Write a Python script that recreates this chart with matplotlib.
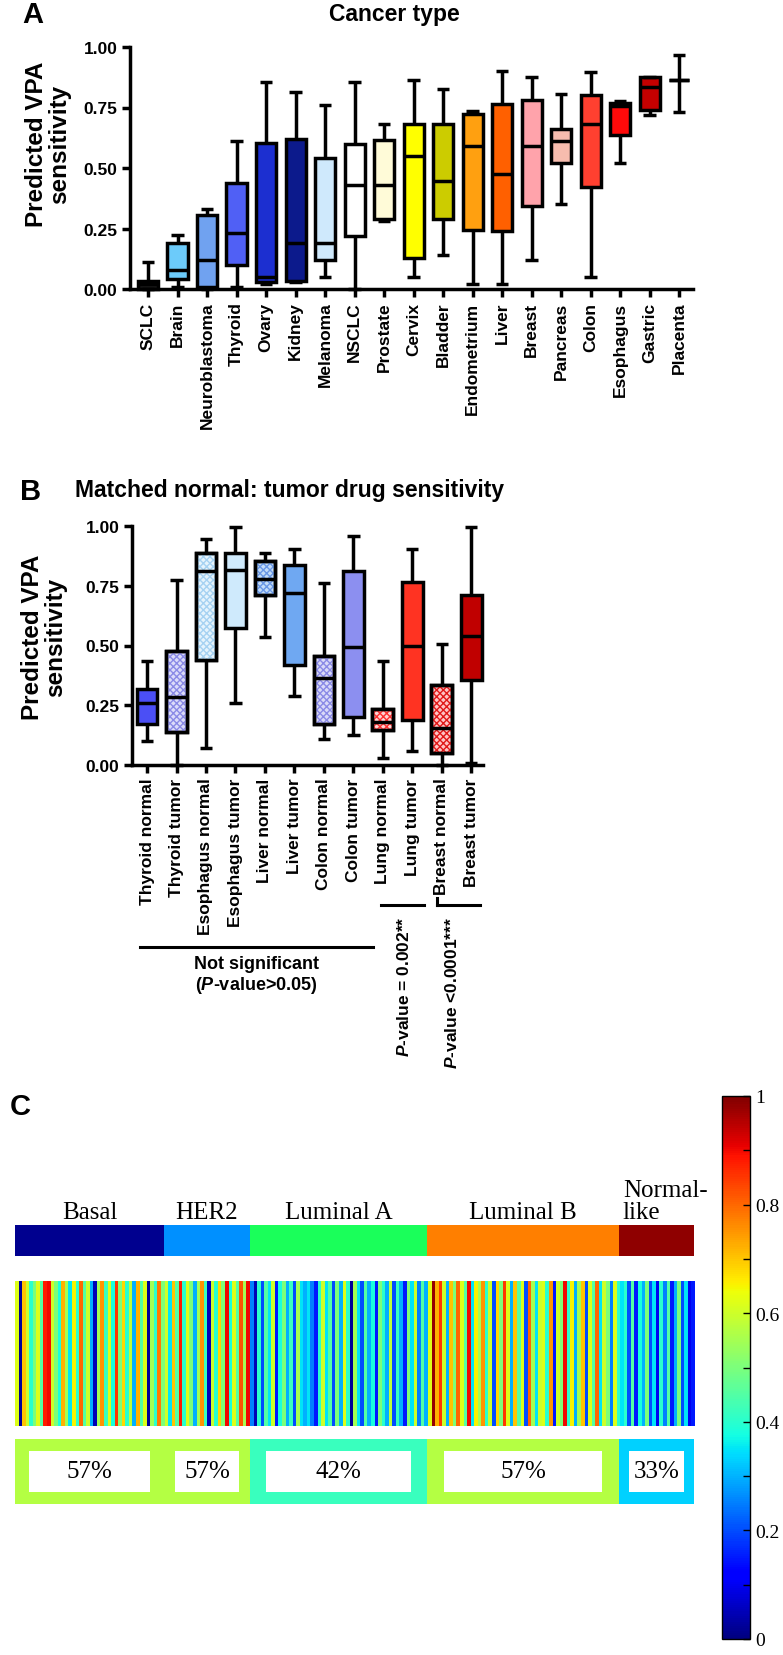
"""
Recria a figura com os perfis de sensibilidade prevista ao VPA:
(A) por tipo de cancer, (B) pares normal/tumor e (C) subtipos de cancer de mama.
"""

import numpy as np
import matplotlib.pyplot as plt
from matplotlib.patches import PathPatch
from matplotlib.ticker import MultipleLocator
from matplotlib.transforms import blended_transform_factory

# Tamanho da figura em pixels
LARGURA, ALTURA = 783, 1656

# Painel A: tipos de cancer
tipos_cancer = ['SCLC', 'Brain', 'Neuroblastoma', 'Thyroid', 'Ovary', 'Kidney', 'Melanoma',
                'NSCLC', 'Prostate', 'Cervix', 'Bladder', 'Endometrium', 'Liver', 'Breast',
                'Pancreas', 'Colon', 'Esophagus', 'Gastric', 'Placenta']
a_min = [0.0, 0.01, 0.0, 0.01, 0.02, 0.03, 0.05, 0.0, 0.28, 0.05, 0.14, 0.02, 0.02, 0.12,
         0.35, 0.05, 0.52, 0.72, 0.73]
a_q1 = [0.0, 0.04, 0.01, 0.10, 0.03, 0.035, 0.12, 0.22, 0.29, 0.13, 0.29, 0.245, 0.24, 0.345,
        0.52, 0.42, 0.635, 0.74, 0.862]
a_med = [0.02, 0.08, 0.12, 0.23, 0.05, 0.19, 0.19, 0.43, 0.43, 0.55, 0.445, 0.59, 0.475, 0.59,
         0.61, 0.68, 0.755, 0.835, 0.862]
a_q3 = [0.035, 0.19, 0.305, 0.44, 0.605, 0.62, 0.54, 0.60, 0.615, 0.68, 0.68, 0.725, 0.765, 0.78,
        0.66, 0.80, 0.77, 0.875, 0.862]
a_max = [0.11, 0.225, 0.33, 0.61, 0.855, 0.815, 0.76, 0.855, 0.68, 0.865, 0.825, 0.735, 0.90,
         0.875, 0.805, 0.895, 0.775, 0.878, 0.965]
a_cores = ['#1a1a1a', '#6ccbfa', '#70a2f0', '#5060f5', '#1c2fd0', '#0c1a8c', '#cfe9fc', '#ffffff',
           '#fffbd8', '#ffff00', '#cccc00', '#ffa010', '#ff6000', '#ffa3ab', '#f7bcae', '#ff4030',
           '#ff0a0a', '#c40000', '#c40000']

# Painel B: pares normal / tumor
amostras_pareadas = ['Thyroid normal', 'Thyroid tumor', 'Esophagus normal', 'Esophagus tumor',
                     'Liver normal', 'Liver tumor', 'Colon normal', 'Colon tumor',
                     'Lung normal', 'Lung tumor', 'Breast normal', 'Breast tumor']
b_min = [0.10, 0.0, 0.07, 0.26, 0.535, 0.29, 0.11, 0.125, 0.03, 0.06, 0.0, 0.01]
b_q1 = [0.17, 0.14, 0.44, 0.575, 0.71, 0.42, 0.17, 0.20, 0.145, 0.19, 0.05, 0.355]
b_med = [0.26, 0.285, 0.81, 0.815, 0.78, 0.72, 0.365, 0.495, 0.18, 0.50, 0.155, 0.54]
b_q3 = [0.32, 0.475, 0.885, 0.885, 0.855, 0.835, 0.455, 0.81, 0.235, 0.765, 0.335, 0.71]
b_max = [0.435, 0.775, 0.945, 0.995, 0.885, 0.905, 0.76, 0.96, 0.435, 0.905, 0.505, 0.995]
b_cores = ['#4b4ff5', '#dcdcfa', '#e6f4fd', '#cfeafc', '#c4ddf8', '#6fa8f2', '#dadaf8', '#8c8ff0',
           '#ffd4d4', '#ff3322', '#ffc4c4', '#c00000']
b_hachuras = [False, True, True, False, True, False, True, False, True, False, True, False]
b_cores_hachura = [None, '#8a8ae6', '#a6d2f2', None, '#6a98e6', None, '#8a8ae6', None,
                   '#ff3030', None, '#e01818', None]

# Painel C: subtipos de mama, sensibilidade por amostra (escala jet)
grupos = ['Basal', 'HER2', 'Luminal A', 'Luminal B', 'Normal-like']
grupos_rotulos = ['Basal', 'HER2', 'Luminal A', 'Luminal B', 'Normal-\nlike']
grupos_cores = ['#00008f', '#0090ff', '#1aff5a', '#ff7f00', '#8f0000']
grupos_percentuais = [57, 57, 42, 57, 33]
sens_basal = [0.62, 0.02, 0.70, 0.60, 0.40, 0.50, 0.62, 0.45, 0.88, 0.90, 0.60, 0.50, 0.38, 0.72,
              0.55, 0.35, 0.65, 0.40, 0.80, 0.45, 0.60, 0.30, 0.05, 0.55, 0.75, 0.42, 0.62, 0.38,
              0.85, 0.50, 0.68, 0.40, 0.58, 0.30, 0.72, 0.45, 0.62, 0.02, 0.55, 0.40, 0.78, 0.50]
sens_her2 = [0.60, 0.35, 0.70, 0.45, 0.88, 0.40, 0.62, 0.50, 0.30, 0.55, 0.75, 0.42, 0.05, 0.60,
             0.40, 0.68, 0.50, 0.90, 0.38, 0.62, 0.45, 0.82, 0.55, 0.90]
sens_luminal_a = [0.25, 0.05, 0.40, 0.20, 0.45, 0.35, 0.60, 0.15, 0.38, 0.50, 0.30, 0.42, 0.20,
                  0.55, 0.35, 0.30, 0.35, 0.25, 0.15, 0.40, 0.60, 0.35, 0.45, 0.20, 0.50, 0.30,
                  0.62, 0.40, 0.02, 0.55, 0.35, 0.20, 0.45, 0.30, 0.38, 0.15, 0.50, 0.40, 0.30,
                  0.58, 0.20, 0.42, 0.30, 0.15, 0.50, 0.35, 0.60, 0.25, 0.45, 0.30]
sens_luminal_b = [0.62, 0.98, 0.72, 0.85, 0.60, 0.30, 0.70, 0.50, 0.80, 0.62, 0.45, 0.90, 0.35,
                  0.65, 0.55, 0.75, 0.40, 0.60, 0.20, 0.68, 0.50, 0.85, 0.62, 0.30, 0.70, 0.45,
                  0.62, 0.20, 0.80, 0.55, 0.35, 0.60, 0.62, 0.40, 0.75, 0.15, 0.60, 0.50, 0.90,
                  0.40, 0.65, 0.30, 0.55, 0.70, 0.20, 0.62, 0.45, 0.80, 0.35, 0.60, 0.50, 0.25,
                  0.62, 0.40]
sens_normal = [0.35, 0.40, 0.20, 0.45, 0.15, 0.38, 0.30, 0.50, 0.20, 0.35, 0.10, 0.40, 0.25, 0.45,
               0.15, 0.30, 0.50, 0.20, 0.35, 0.10, 0.15]

# Fontes (Arial nos paineis A/B, Times no painel C)
plt.rcParams['font.family'] = 'Liberation Sans'
plt.rcParams['font.weight'] = 'bold'
plt.rcParams['mathtext.fontset'] = 'custom'
plt.rcParams['mathtext.it'] = 'Liberation Sans:italic:bold'
plt.rcParams['mathtext.rm'] = 'Liberation Sans:bold'
plt.rcParams['hatch.linewidth'] = 1.0
SERIF = 'Liberation Serif'


def caixa_px(x0, y0, x1, y1):
    # Converte um retangulo em pixels (origem no topo) para fracoes da figura
    return [x0 / LARGURA, 1 - y1 / ALTURA, (x1 - x0) / LARGURA, (y1 - y0) / ALTURA]


def desenha_caixas(ax, minimos, q1s, medianas, q3s, maximos, cores, largura):
    # Monta as estatisticas e desenha os boxplots com a propria bxp do matplotlib
    estatisticas = [dict(whislo=a, q1=b, med=c, q3=d, whishi=e, fliers=[])
                    for a, b, c, d, e in zip(minimos, q1s, medianas, q3s, maximos)]
    linha = dict(linewidth=2.5, color='black', solid_capstyle='butt')
    bp = ax.bxp(estatisticas, positions=range(len(estatisticas)), widths=largura,
                capwidths=0.42, patch_artist=True, showfliers=False,
                boxprops=dict(linewidth=2.5, edgecolor='black'),
                whiskerprops=linha, capprops=linha, medianprops=linha)
    for caixa, cor in zip(bp['boxes'], cores):
        caixa.set_facecolor(cor)
        caixa.set_clip_on(False)
    for chave in ['whiskers', 'caps', 'medians']:
        for artista in bp[chave]:
            artista.set_clip_on(False)
    return bp


def estiliza_eixos(ax, rotulos):
    # Estilo tipo GraphPad: so eixos esquerdo e inferior, grossos
    for lado in ['top', 'right']:
        ax.spines[lado].set_visible(False)
    for lado in ['left', 'bottom']:
        ax.spines[lado].set_linewidth(2.5)
    ax.set_ylim(0, 1)
    ax.set_yticks([0, 0.25, 0.5, 0.75, 1.0])
    ax.set_yticklabels(['0.00', '0.25', '0.50', '0.75', '1.00'])
    ax.set_xticks(range(len(rotulos)))
    ax.set_xticklabels(rotulos, rotation=90)
    ax.tick_params(width=2.5, length=6, labelsize=12.5, pad=3)
    ax.set_ylabel('Predicted VPA\nsensitivity', fontsize=17.5, fontweight='bold', linespacing=1.0)


fig = plt.figure(figsize=(LARGURA / 100, ALTURA / 100), dpi=100)

# ---------------- Painel A ----------------
ax_a = fig.add_axes(caixa_px(130, 48, 693, 290))
desenha_caixas(ax_a, a_min, a_q1, a_med, a_q3, a_max, a_cores, 0.68)
estiliza_eixos(ax_a, tipos_cancer)
ax_a.set_xlim(-0.61, 18.47)
ax_a.yaxis.set_label_coords(-0.105, 0.6)
fig.text(22 / LARGURA, 1 - 15 / ALTURA, 'A', fontsize=21, fontweight='bold', va='center')
fig.text(394 / LARGURA, 1 - 14 / ALTURA, 'Cancer type', fontsize=16.5, fontweight='bold',
         ha='center', va='center')

# ---------------- Painel B ----------------
ax_b = fig.add_axes(caixa_px(132, 527, 483, 766))
bp_b = desenha_caixas(ax_b, b_min, b_q1, b_med, b_q3, b_max, b_cores, 0.70)
estiliza_eixos(ax_b, amostras_pareadas)
ax_b.set_xlim(-0.51, 11.4)
ax_b.yaxis.set_label_coords(-0.185, 0.54)

# Caixas quadriculadas (amostras normais e tumor de tireoide)
for caixa, hachura, cor_hachura in zip(bp_b['boxes'], b_hachuras, b_cores_hachura):
    if not hachura:
        continue
    trama = PathPatch(caixa.get_path(), transform=caixa.get_transform(), facecolor='none',
                      edgecolor=cor_hachura, hatch='xxxxx', linewidth=0,
                      zorder=caixa.get_zorder() + 0.01, clip_on=False)
    ax_b.add_patch(trama)
    contorno = PathPatch(caixa.get_path(), transform=caixa.get_transform(), fill=False,
                         edgecolor='black', linewidth=2.5, zorder=caixa.get_zorder() + 0.02,
                         clip_on=False)
    ax_b.add_patch(contorno)

fig.text(20 / LARGURA, 1 - 492 / ALTURA, 'B', fontsize=21, fontweight='bold', va='center')
fig.text(75 / LARGURA, 1 - 490 / ALTURA, 'Matched normal: tumor drug sensitivity',
         fontsize=16.5, fontweight='bold', va='center')

# Anotacoes de significancia abaixo dos rotulos
trans_b = blended_transform_factory(ax_b.transData, ax_b.transAxes)
ax_b.plot([-0.24, 7.66], [-0.762, -0.762], color='black', lw=2.2, transform=trans_b,
          clip_on=False)
ax_b.text(3.7, -0.83, 'Not significant', transform=trans_b, ha='center', va='center',
          fontsize=13)
ax_b.text(3.7, -0.92, r'($\it{P}$-value>0.05)', transform=trans_b, ha='center', va='center',
          fontsize=13)
ax_b.plot([7.95, 9.4], [-0.586, -0.586], color='black', lw=2.2, transform=trans_b,
          clip_on=False)
ax_b.plot([9.85, 11.3], [-0.586, -0.586], color='black', lw=2.2, transform=trans_b,
          clip_on=False)
ax_b.plot([9.85, 9.85], [-0.556, -0.586], color='black', lw=2.2, transform=trans_b,
          clip_on=False)
ax_b.text(8.71, -0.63, r'$\it{P}$-value = 0.002**', transform=trans_b, rotation=90,
          ha='center', va='top', fontsize=12.5)
ax_b.text(10.34, -0.63, r'$\it{P}$-value <0.0001***', transform=trans_b, rotation=90,
          ha='center', va='top', fontsize=12.5)

# ---------------- Painel C ----------------
sensibilidades = [sens_basal, sens_her2, sens_luminal_a, sens_luminal_b, sens_normal]
valores = np.concatenate(sensibilidades)
contagens = np.array([len(s) for s in sensibilidades])
inicios = np.concatenate([[0], np.cumsum(contagens)[:-1]])
total = valores.size
mapa_cores = plt.get_cmap('jet')

fig.text(10 / LARGURA, 1 - 1107 / ALTURA, 'C', fontsize=21, fontweight='bold', va='center')

# Barra de subtipos
ax_sub = fig.add_axes(caixa_px(15, 1226, 694, 1257))
ax_sub.barh(0, contagens, left=inicios, height=1, color=grupos_cores, linewidth=0)
ax_sub.set_xlim(0, total)
ax_sub.set_ylim(-0.5, 0.5)
ax_sub.axis('off')
trans_sub = blended_transform_factory(ax_sub.transData, ax_sub.transAxes)
for inicio, contagem, rotulo in zip(inicios, contagens, grupos_rotulos):
    if '\n' in rotulo:
        ax_sub.text(inicio + 1, 1.08, rotulo, transform=trans_sub, ha='left', va='bottom',
                    fontsize=18, fontfamily=SERIF, fontweight='normal', linespacing=1.0)
    else:
        ax_sub.text(inicio + contagem / 2, 1.08, rotulo, transform=trans_sub, ha='center',
                    va='bottom', fontsize=18, fontfamily=SERIF, fontweight='normal')

# Mapa de calor das amostras
ax_mapa = fig.add_axes(caixa_px(15, 1282, 694, 1427))
im = ax_mapa.imshow(valores[np.newaxis, :], aspect='auto', cmap=mapa_cores, vmin=0, vmax=1,
                    interpolation='nearest', extent=(0, total, 0, 1))
ax_mapa.axis('off')

# Barra com percentuais de amostras sensiveis por subtipo
ax_pct = fig.add_axes(caixa_px(15, 1440, 694, 1505))
cores_pct = [mapa_cores(p / 100) for p in grupos_percentuais]
ax_pct.barh(0, contagens, left=inicios, height=1, color=cores_pct, linewidth=0)
margens = 1.5 + 0.06 * contagens
ax_pct.barh(0, contagens - 2 * margens, left=inicios + margens, height=0.62, color='white',
            linewidth=0)
for inicio, contagem, pct in zip(inicios, contagens, grupos_percentuais):
    ax_pct.text(inicio + contagem / 2, 0, '{p}%'.format(p=pct), ha='center', va='center',
                fontsize=18, fontfamily=SERIF, fontweight='normal')
ax_pct.set_xlim(0, total)
ax_pct.set_ylim(-0.5, 0.5)
ax_pct.axis('off')

# Barra de cores
cax = fig.add_axes(caixa_px(722, 1097, 750, 1640))
barra = fig.colorbar(im, cax=cax, ticks=[0, 0.2, 0.4, 0.6, 0.8, 1.0])
barra.ax.set_yticklabels(['0', '0.2', '0.4', '0.6', '0.8', '1'], fontfamily=SERIF,
                         fontweight='normal', fontsize=14)
barra.ax.yaxis.set_minor_locator(MultipleLocator(0.1))
barra.ax.tick_params(which='both', direction='in', left=False, right=True, length=5, width=1)
barra.outline.set_linewidth(1)

fig.savefig('out.png', dpi=100)
